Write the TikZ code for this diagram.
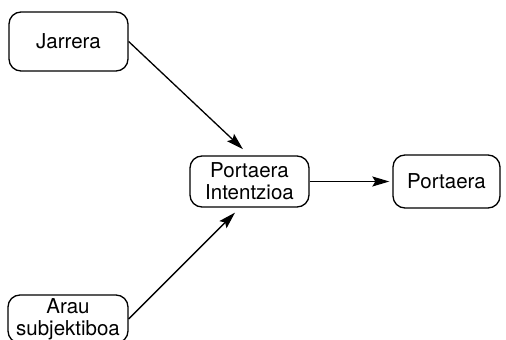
\documentclass[tikz,border=0pt]{standalone}
\usepackage{fontspec}
\setmainfont{TeX Gyre Heros}
\usetikzlibrary{arrows.meta}
\begin{document}
\begin{tikzpicture}[x=1pt,y=1pt,
  box/.style={draw, line width=1.3pt, rounded corners=12pt, align=center,
    inner sep=0pt, font=\fontsize{20.5}{22}\selectfont},
  link/.style={line width=1.3pt, -{Stealth[length=17pt,width=10pt,inset=3pt]}}]
  % page frame
  \clip (0,0) rectangle (506,340);
  \fill[white] (0,0) rectangle (506,340);
  % boxes
  \node[box, minimum width=119pt, minimum height=59pt] (J) at (68.5,298.5) {Jarrera};
  \node[box, minimum width=119pt, minimum height=51pt] (PI) at (249.5,158.5) {Portaera\\Intentzioa};
  \node[box, minimum width=107pt, minimum height=53pt] (P) at (446.5,158.5) {Portaera};
  \node[box, minimum width=120pt, minimum height=48pt] (A) at (68,21) {Arau\\subjektiboa};
  % arrows
  \draw[link, shorten >=9pt] (J.east) -- (PI.north);
  \draw[link, shorten >=7pt] (A.east) -- (PI.250);
  \draw[link, shorten >=3pt] (PI.east) -- (P.west);
\end{tikzpicture}
\end{document}
